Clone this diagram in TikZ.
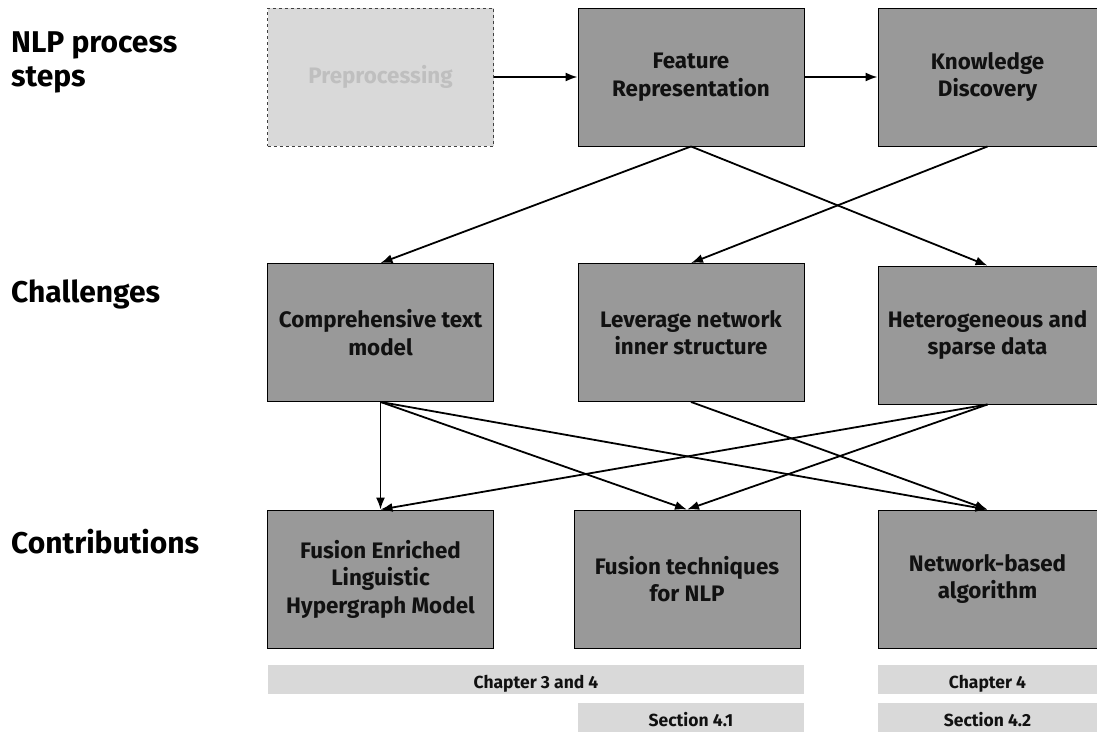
\documentclass[tikz,border=0pt]{standalone}
\usepackage{fontspec}
\setmainfont{Fira Sans}
\usetikzlibrary{arrows.meta}
\definecolor{boxdark}{HTML}{999999}
\definecolor{boxlight}{HTML}{D9D9D9}
\definecolor{ghost}{HTML}{BFBFBF}
\definecolor{txt}{HTML}{111111}
\tikzset{
  box/.style={draw=black, line width=0.9pt, fill=boxdark, minimum width=226pt, minimum height=138pt,
    align=center, inner sep=2pt, text=txt, font=\fontsize{22.4}{27.5}\selectfont\bfseries},
  narrowbox/.style={box, minimum width=219pt},
  ghostbox/.style={box, fill=boxlight, draw=black!75, dashed, text=ghost},
  bar/.style={fill=boxlight, draw=none, minimum height=29pt, inner sep=0pt, text=txt,
    text height=19pt, text depth=0pt, font=\fontsize{17.5}{20}\selectfont\bfseries},
  rowlabel/.style={anchor=west, align=left, inner sep=0pt, text=black,
    font=\fontsize{30}{34}\selectfont\bfseries},
  arr/.style={-{Latex[length=12pt,width=9pt]}, line width=1.8pt, black}
}
\begin{document}
\begin{tikzpicture}[x=1pt,y=-1pt]
\useasboundingbox (0,0) rectangle (1097,731);
% row labels
\node[rowlabel] (l1) at (11,62) {NLP process\\steps};
\node[rowlabel] (l2) at (11,294) {Challenges};
\node[rowlabel] (l3) at (11,542) {Contributions};
% row 1
\node[ghostbox] (pre) at (380.5,77) {Preprocessing};
\node[box] (fr) at (691,77) {Feature\\Representation};
\node[narrowbox] (kd) at (987.5,77) {Knowledge\\Discovery};
% row 2
\node[box] (ct) at (380.5,332.5) {Comprehensive text\\model};
\node[box] (ln) at (691,332.5) {Leverage network\\inner structure};
\node[narrowbox] (hs) at (987.5,335) {Heterogeneous and\\sparse data};
% row 3
\node[box] (fe) at (380.5,579) {Fusion Enriched\\Linguistic\\Hypergraph Model};
\node[box] (ft) at (687,579) {Fusion techniques\\for NLP};
\node[narrowbox] (nb) at (987.5,579) {Network-based\\algorithm};
% bars
\node[bar, minimum width=536pt] (c34) at (536,679) {Chapter 3 and 4};
\node[bar, minimum width=219pt] (c4) at (987.5,679) {Chapter 4};
\node[bar, minimum width=226pt] (s41) at (691,717) {Section 4.1};
\node[bar, minimum width=219pt] (s42) at (987.5,717) {Section 4.2};
% connectors
\draw[arr] (pre.east) -- (fr.west);
\draw[arr] (fr.east) -- (kd.west);
\draw[arr] (fr.south) -- (ct.north);
\draw[arr] (fr.south) -- (hs.north);
\draw[arr] (kd.south) -- (ln.north);
\draw[arr] (ct.south) -- (fe.north);
\draw[arr] (ct.south) -- (ft.north);
\draw[arr] (ct.south) -- (nb.north);
\draw[arr] (ln.south) -- (nb.north);
\draw[arr] (hs.south) -- (fe.north);
\draw[arr] (hs.south) -- (ft.north);
\end{tikzpicture}
\end{document}
